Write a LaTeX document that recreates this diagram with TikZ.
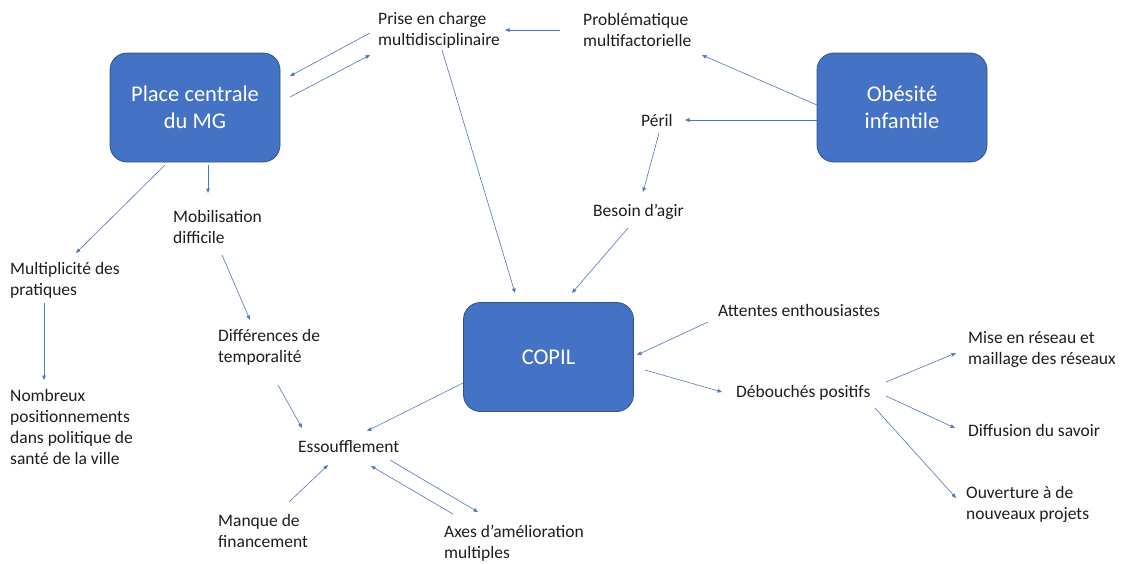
\documentclass[tikz,border=0pt]{standalone}
\usepackage{fontspec}
\setmainfont{Carlito}
\usetikzlibrary{arrows.meta,calc}
\definecolor{boxblue}{RGB}{68,114,196}
\definecolor{boxedge}{RGB}{47,82,143}
\definecolor{arrblue}{RGB}{80,118,190}
\definecolor{txt}{RGB}{30,30,30}
\tikzset{
  bigbox/.style={draw=boxedge, line width=0.8pt, fill=boxblue, rounded corners=17pt, minimum width=170pt, minimum height=109pt, text=white, align=center, font=\fontsize{22.5}{27}\selectfont},
  lbl/.style={anchor=west, inner sep=0pt, align=left, text=txt, font=\fontsize{17.5}{21}\selectfont},
  arr/.style={draw=arrblue, line width=0.6pt, -{Triangle[length=4.5pt,width=3.6pt]}}
}
\begin{document}
\begin{tikzpicture}[x=1pt,y=-1pt]
\useasboundingbox (0,0) rectangle (1123,563);
\fill[white] (0,0) rectangle (1123,563);
% boxes
\node[bigbox] (place) at (195,107.5) {Place centrale\\du MG};
\node[bigbox] (obes) at (902,107.5) {Obésité\\infantile};
\node[bigbox] (copil) at (548.5,357) {COPIL};
% labels
\node[lbl] (prise) at (378,30) {Prise en charge\\multidisciplinaire};
\node[lbl] (prob) at (583,30) {Problématique\\multifactorielle};
\node[lbl] (peril) at (641,120) {Péril};
\node[lbl] (besoin) at (593,212) {Besoin d’agir};
\node[lbl] (mobil) at (173,227) {Mobilisation\\difficile};
\node[lbl] (multi) at (10,280) {Multiplicité des\\pratiques};
\node[lbl] (nomb) at (10,427) {Nombreux\\positionnements\\dans politique de\\santé de la ville};
\node[lbl] (diff) at (218,347) {Différences de\\temporalité};
\node[lbl] (ess) at (298,447) {Essoufflement};
\node[lbl] (manque) at (218,531) {Manque de\\financement};
\node[lbl] (axes) at (444,543) {Axes d’amélioration\\multiples};
\node[lbl] (attentes) at (718,310) {Attentes enthousiastes};
\node[lbl] (debouches) at (736,393) {Débouchés positifs};
\node[lbl] (mise) at (968,349) {Mise en réseau et\\maillage des réseaux};
\node[lbl] (diffusion) at (968,430) {Diffusion du savoir};
\node[lbl] (ouverture) at (966,504) {Ouverture à de\\nouveaux projets};
% arrows
\draw[arr] ($(prise.west)+(-8,3)$) -- ($(place.center)+(95,-31.5)$);
\draw[arr] ($(place.center)+(95,-10.5)$) -- ($(prise.west)+(-8,25)$);
\draw[arr] ($(prob.west)+(-23,0)$) -- ($(prise.west)+(127,0)$);
\draw[arr] ($(obes.center)+(-85,-2.5)$) -- ($(prob.west)+(119,25)$);
\draw[arr] ($(obes.center)+(-85,12.5)$) -- ($(peril.west)+(44,0)$);
\draw[arr] ($(peril.west)+(18,13)$) -- ($(besoin.west)+(50,-20)$);
\draw[arr] ($(besoin.west)+(35,16)$) -- ($(copil.center)+(23.5,-64)$);
\draw[arr] ($(prise.west)+(64,20)$) -- ($(copil.center)+(-33.5,-64)$);
\draw[arr] ($(place.center)+(-30,57.5)$) -- ($(multi.west)+(66,-27)$);
\draw[arr] ($(place.center)+(13,57.5)$) -- ($(mobil.west)+(35,-34)$);
\draw[arr] ($(multi.west)+(34,23)$) -- ($(nomb.west)+(34,-47)$);
\draw[arr] ($(mobil.west)+(49,28)$) -- ($(diff.west)+(32,-27)$);
\draw[arr] ($(diff.west)+(60,38)$) -- ($(ess.west)+(4,-19)$);
\draw[arr] ($(copil.center)+(-85.5,26)$) -- ($(ess.west)+(69,-16)$);
\draw[arr] ($(manque.west)+(71,-29)$) -- ($(ess.west)+(30,18)$);
\draw[arr] ($(ess.west)+(92,13)$) -- ($(axes.west)+(34,-31)$);
\draw[arr] ($(axes.west)+(9,-29)$) -- ($(ess.west)+(73,19)$);
\draw[arr] ($(attentes.west)+(-10,12)$) -- ($(copil.center)+(88.5,-2)$);
\draw[arr] ($(copil.center)+(96.5,13)$) -- ($(debouches.west)+(-14,-1)$);
\draw[arr] ($(debouches.west)+(150,-11)$) -- ($(mise.west)+(-12,4)$);
\draw[arr] ($(debouches.west)+(150,3)$) -- ($(diffusion.west)+(-13,-2)$);
\draw[arr] ($(debouches.west)+(139,15)$) -- ($(ouverture.west)+(-10,-6)$);
\end{tikzpicture}
\end{document}
